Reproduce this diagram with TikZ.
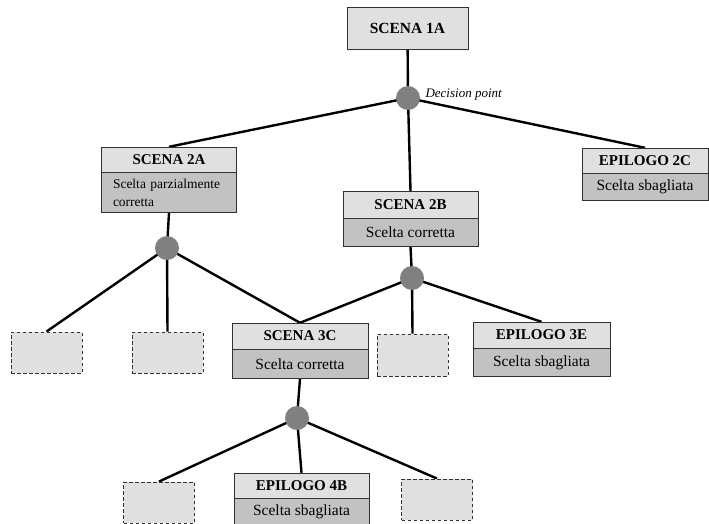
\documentclass[tikz,border=0pt]{standalone}
\usepackage{fontspec}
\setmainfont{Liberation Serif}
\usepackage{xcolor}
\definecolor{headgray}{RGB}{224,224,224}
\definecolor{bodygray}{RGB}{194,194,194}
\definecolor{dotgray}{RGB}{128,128,128}
\definecolor{rimgray}{RGB}{50,50,50}
\usetikzlibrary{positioning, backgrounds}

\begin{document}
\begin{tikzpicture}[x=1pt, y=-1pt,
    head/.style={draw=rimgray, fill=headgray, minimum width=135, minimum height=26, inner sep=0pt, font=\fontsize{15}{17}\selectfont\bfseries},
    body/.style={draw=rimgray, fill=bodygray, minimum width=135, minimum height=28, inner sep=0pt, font=\fontsize{15.5}{17}\selectfont},
    ghost/.style={draw=rimgray, line width=0.9pt, dash pattern=on 3.5pt off 2.5pt, fill=headgray, minimum width=71, minimum height=41, inner sep=0pt},
    dpoint/.style={circle, fill=dotgray, minimum size=24, inner sep=0pt},
    dplbl/.style={font=\fontsize{13}{15}\selectfont\itshape},
    link/.style={line width=2.4pt, black},
  ]
  \useasboundingbox (0,0) rectangle (709,523);

  % Scena iniziale
  \node[head, minimum width=121, minimum height=42, font=\fontsize{15.5}{17}\selectfont\bfseries] (s1a) at (407.5,28) {SCENA 1A};
  \node[dpoint] (dp1) at (408,98) {};
  \node[dplbl, anchor=west] (dp1lbl) at (422,95) {Decision point};

  % Livello 2
  \node[head, minimum height=25] (s2a) at (169,159.5) {SCENA 2A};
  \node[body, below=0pt of s2a, minimum height=40, align=left, text width=112,
        font=\fontsize{13.5}{18}\selectfont] (s2a-b) {Scelta parzialmente\\corretta};
  \node[head, minimum height=27] (s2b) at (410.5,204.5) {SCENA 2B};
  \node[body, below=0pt of s2b] (s2b-b) {Scelta corretta};
  \node[head, minimum width=126, minimum height=25] (e2c) at (645,160.5) {EPILOGO 2C};
  \node[body, minimum width=126, minimum height=27, below=0pt of e2c] (e2c-b) {Scelta sbagliata};

  \node[dpoint] (dp2) at (167,248) {};
  \node[dpoint] (dp3) at (412,278) {};

  % Livello 3
  \node[ghost] (g1) at (46.5,352.5) {};
  \node[ghost] (g2) at (167.5,352.5) {};
  \node[head, minimum width=136] (s3c) at (300,336) {SCENA 3C};
  \node[body, minimum width=136, minimum height=29, below=0pt of s3c] (s3c-b) {Scelta corretta};
  \node[ghost, minimum height=42] (g3) at (412.5,355) {};
  \node[head, minimum width=137] (e3e) at (541.5,335) {EPILOGO 3E};
  \node[body, minimum width=137, below=0pt of e3e] (e3e-b) {Scelta sbagliata};

  \node[dpoint] (dp4) at (297,418) {};

  % Livello 4 (tagliato in basso)
  \node[ghost] (g4) at (159,502.5) {};
  \node[head, minimum height=25] (e4b) at (301.5,485.5) {EPILOGO 4B};
  \node[body, minimum height=27, below=0pt of e4b] (e4b-b) {Scelta sbagliata};
  \node[ghost] (g5) at (437,499.5) {};

  % Collegamenti (sotto i punti di decisione)
  \begin{scope}[on background layer]
    \draw[link] (s1a) -- (dp1);
    \draw[link] (dp1.center) -- (s2a.north);
    \draw[link] (dp1.center) -- (s2b.north);
    \draw[link] (dp1.center) -- (e2c.north);

    \draw[link] (s2a-b.south) -- (dp2.center);
    \draw[link] (dp2.center) -- (g1.north);
    \draw[link] (dp2.center) -- (g2.north);
    \draw[link] (dp2.center) -- (s3c.north);

    \draw[link] (s2b-b.south) -- (dp3.center);
    \draw[link] (dp3.center) -- (s3c.north);
    \draw[link] (dp3.center) -- (g3.north);
    \draw[link] (dp3.center) -- (e3e.north);

    \draw[link] (s3c-b.south) -- (dp4.center);
    \draw[link] (dp4.center) -- (g4.north);
    \draw[link] (dp4.center) -- (e4b.north);
    \draw[link] (dp4.center) -- (g5.north);
  \end{scope}
\end{tikzpicture}
\end{document}
